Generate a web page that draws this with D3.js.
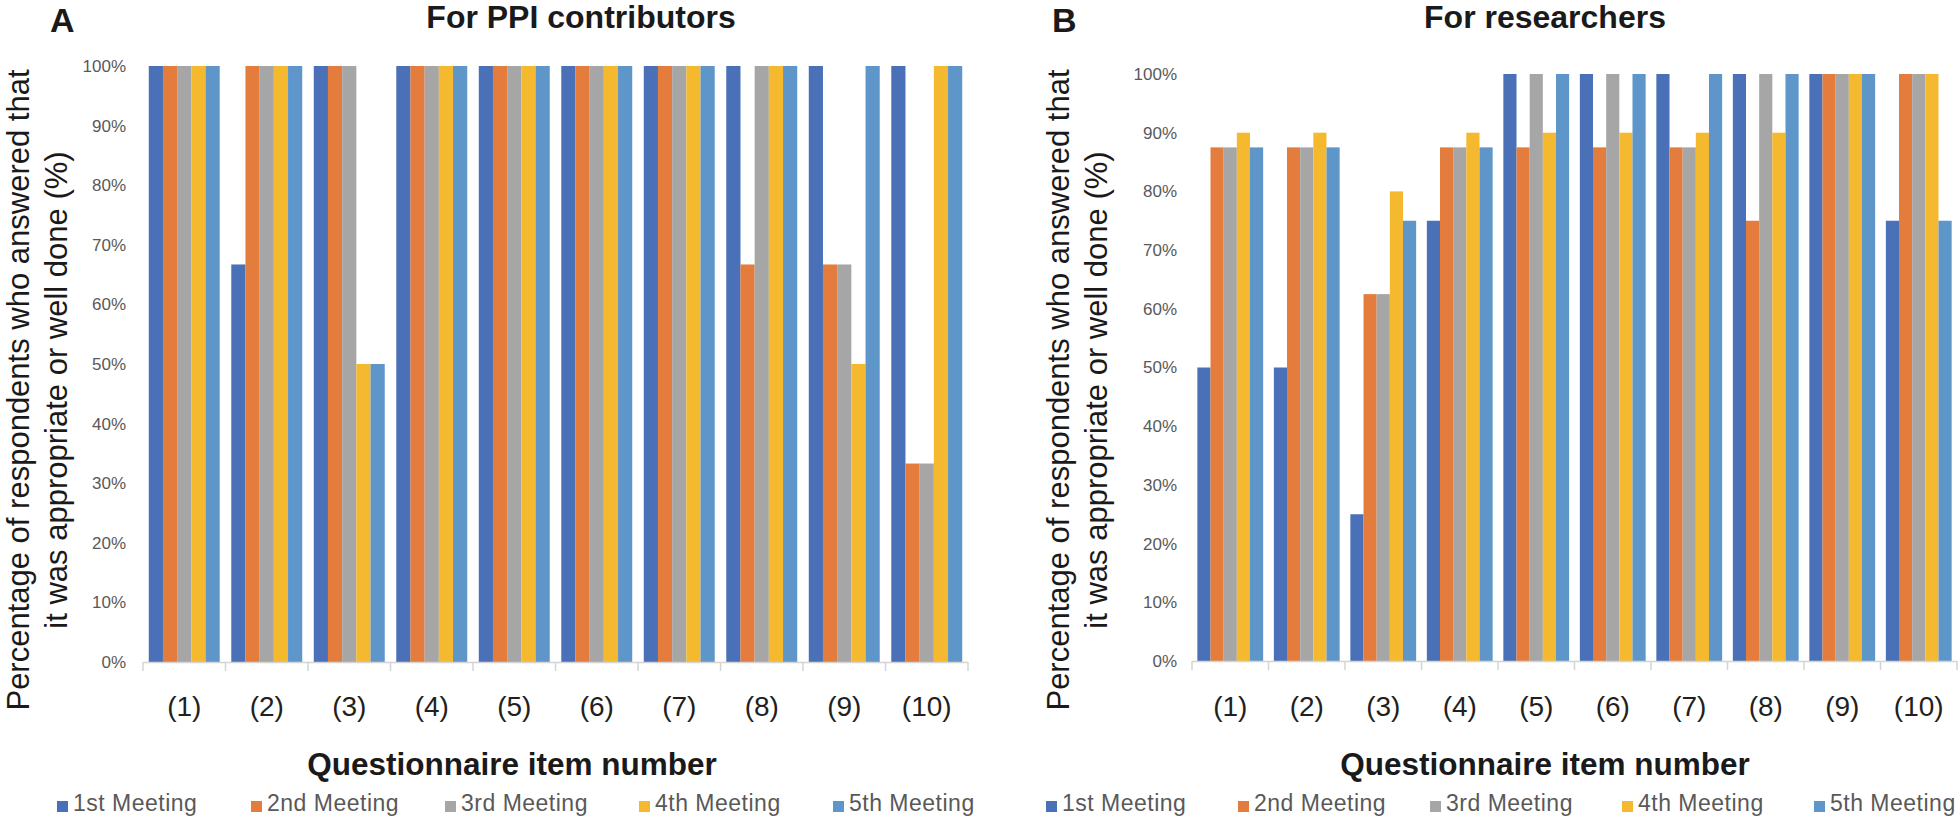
<!DOCTYPE html>
<html>
<head>
<meta charset="utf-8">
<script src="https://d3js.org/d3.v7.min.js"></script>
<style>
  body { margin: 0; background: #fff; }
  svg { display: block; font-family: "Liberation Sans", Arial, sans-serif; }
</style>
</head>
<body>
<svg id="chart" width="1960" height="818"></svg>
<script>
// questionnaire items and meetings
var items = ["(1)", "(2)", "(3)", "(4)", "(5)", "(6)", "(7)", "(8)", "(9)", "(10)"];
var meetings = ["1st Meeting", "2nd Meeting", "3rd Meeting", "4th Meeting", "5th Meeting"];
var colors = ["#4a71b7", "#e37c3d", "#a6a6a6", "#f4b92e", "#5e96ca"];
var yTicks = [0, 10, 20, 30, 40, 50, 60, 70, 80, 90, 100];

// % answering appropriate / well done, one row per item, one value per meeting
var ppiValues = [
    [100, 100, 100, 100, 100],
    [66.7, 100, 100, 100, 100],
    [100, 100, 100, 50, 50],
    [100, 100, 100, 100, 100],
    [100, 100, 100, 100, 100],
    [100, 100, 100, 100, 100],
    [100, 100, 100, 100, 100],
    [100, 66.7, 100, 100, 100],
    [100, 66.7, 66.7, 50, 100],
    [100, 33.3, 33.3, 100, 100]
];
var researcherValues = [
    [50, 87.5, 87.5, 90, 87.5],
    [50, 87.5, 87.5, 90, 87.5],
    [25, 62.5, 62.5, 80, 75],
    [75, 87.5, 87.5, 90, 87.5],
    [100, 87.5, 100, 90, 100],
    [100, 87.5, 100, 90, 100],
    [100, 87.5, 87.5, 90, 100],
    [100, 75, 100, 90, 100],
    [100, 100, 100, 100, 100],
    [75, 100, 100, 100, 75]
];

var svg = d3.select("#chart");

function drawPanel(opts) {
    var g = svg.append("g");

    var x0 = d3.scaleBand().domain(items)
        .range([opts.left, opts.right])
        .paddingInner(0.14).paddingOuter(0.07);
    var x1 = d3.scaleBand().domain(meetings).range([0, x0.bandwidth()]);
    var y = d3.scaleLinear().domain([0, 100]).range([opts.bottom, opts.top]);

    // y tick labels
    var yAxis = d3.axisLeft(y).tickValues(yTicks).tickSize(0).tickPadding(0)
        .tickFormat(d => d + "%");
    g.append("g")
        .attr("transform", "translate(" + opts.yLabelX + ",0)")
        .call(yAxis)
        .call(a => a.select(".domain").remove())
        .selectAll("text")
        .attr("font-family", "Liberation Sans, Arial, sans-serif")
        .attr("font-size", 17)
        .attr("fill", "#595959");

    // bars
    g.selectAll(".grp")
        .data(opts.values).enter()
        .append("g")
        .attr("transform", (d, i) => "translate(" + x0(items[i]) + ",0)")
        .selectAll("rect")
        .data(d => d).enter()
        .append("rect")
        .attr("x", (d, j) => x1(meetings[j]))
        .attr("width", x1.bandwidth())
        .attr("y", d => y(d))
        .attr("height", d => y(0) - y(d))
        .attr("fill", (d, j) => colors[j]);

    // baseline and boundary ticks
    var step = x0.step();
    var bounds = d3.range(items.length + 1).map(i => opts.left + i * step);
    g.append("line")
        .attr("x1", opts.left).attr("x2", opts.right)
        .attr("y1", y(0) + 0.5).attr("y2", y(0) + 0.5)
        .attr("stroke", "#d4d4d4").attr("stroke-width", 1.5);
    g.selectAll(".btick")
        .data(bounds).enter()
        .append("line")
        .attr("x1", d => d).attr("x2", d => d)
        .attr("y1", y(0)).attr("y2", y(0) + 9)
        .attr("stroke", "#d4d4d4").attr("stroke-width", 1.5);

    // category labels
    var xAxis = d3.axisBottom(x0).tickSize(0).tickPadding(0);
    g.append("g")
        .attr("transform", "translate(0," + opts.catY + ")")
        .call(xAxis)
        .call(a => a.select(".domain").remove())
        .selectAll("text")
        .attr("dy", 0)
        .attr("font-family", "Liberation Sans, Arial, sans-serif")
        .attr("font-size", 28)
        .attr("fill", "#231f20");

    // panel letter and title
    g.append("text")
        .attr("x", opts.letterX).attr("y", 32)
        .attr("font-size", 34).attr("font-weight", "bold").attr("fill", "#1a1a1a")
        .text(opts.letter);
    g.append("text")
        .attr("x", opts.titleX).attr("y", 28)
        .attr("text-anchor", "middle")
        .attr("font-size", 32).attr("font-weight", "bold").attr("fill", "#1a1a1a")
        .text(opts.title);

    // y axis title, two lines
    var yt = g.append("text")
        .attr("transform", "translate(" + opts.yTitleX + ",390) rotate(-90)")
        .attr("text-anchor", "middle")
        .attr("font-size", 31).attr("fill", "#1a1a1a");
    yt.append("tspan").attr("x", 0).attr("y", 0)
        .text("Percentage of respondents who answered that");
    yt.append("tspan").attr("x", 0).attr("y", 38)
        .text("it was appropriate or well done (%)");

    // x axis title
    g.append("text")
        .attr("x", opts.xTitleX).attr("y", 775)
        .attr("text-anchor", "middle")
        .attr("font-size", 31.5).attr("font-weight", "bold").attr("fill", "#1a1a1a")
        .text("Questionnaire item number");

    // legend
    var leg = g.selectAll(".leg")
        .data(meetings).enter()
        .append("g")
        .attr("transform", (d, i) => "translate(" + (opts.legendX + i * opts.legendStep) + ",0)");
    leg.append("rect")
        .attr("x", 0).attr("y", 801)
        .attr("width", 11).attr("height", 11)
        .attr("fill", (d, i) => colors[i]);
    leg.append("text")
        .attr("x", 16).attr("y", 811)
        .attr("font-size", 23).attr("letter-spacing", 0.5)
        .attr("fill", "#595959")
        .text(d => d);
}

drawPanel({
    values: ppiValues,
    left: 143, right: 968, top: 66, bottom: 662,
    yLabelX: 126, catY: 716,
    letter: "A", letterX: 50,
    title: "For PPI contributors", titleX: 581,
    yTitleX: 29, xTitleX: 512,
    legendX: 57, legendStep: 194
});

drawPanel({
    values: researcherValues,
    left: 1192, right: 1957, top: 74, bottom: 661,
    yLabelX: 1177, catY: 716,
    letter: "B", letterX: 1052,
    title: "For researchers", titleX: 1545,
    yTitleX: 1069, xTitleX: 1545,
    legendX: 1046, legendStep: 192
});
</script>
</body>
</html>
